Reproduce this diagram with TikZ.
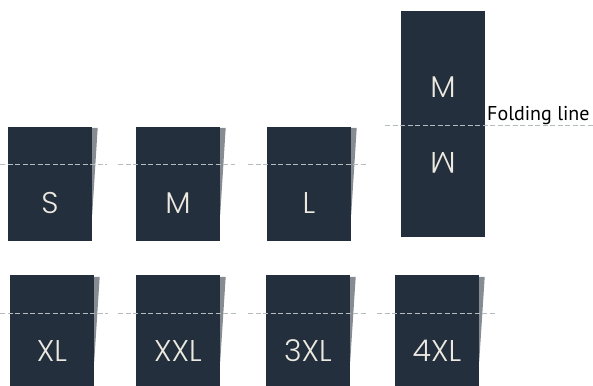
\documentclass[tikz,border=0pt]{standalone}
\usepackage{fontspec}
\setmainfont{PT Sans}
\newfontfamily\tagfont{Poppins Light}
\usetikzlibrary{calc,positioning}
\definecolor{tagnavy}{RGB}{35,47,61}
\definecolor{tagfold}{RGB}{134,140,145}
\definecolor{tagthread}{RGB}{236,233,224}
\definecolor{foldgray}{RGB}{180,188,192}

\begin{document}
\begin{tikzpicture}[x=1pt, y=-1pt,
   tagbox/.style={fill=tagnavy, inner sep=0pt, minimum width=84pt, minimum height=114pt},
   tagtext/.style={text=tagthread, inner sep=0pt, anchor=base, font=\tagfont\fontsize{30}{30}\selectfont},
   foldline/.style={foldgray, line width=1pt, dash pattern=on 5pt off 2.5pt}]
   \path[use as bounding box] (0,0) rectangle (593,385); % canvas of the reference
   % size labels, folded in two, seen from the front
   % the little grey wedge is the back half peeking out

   % top row
   \node[tagbox] (s) at (50,184) {};
   \node[tagbox] (m) at (178,184) {};
   \node[tagbox] (l) at (309,184) {};
   \foreach \t in {s,m,l}
      \fill[tagfold] ($(\t.north east)+(0,1)$) -- ++(5.5,0) -- ($(\t.north east)+(0,88)$) -- cycle;
   \node[tagtext] (s-txt) at ([yshift=-87pt]s.north) {S};
   \node[tagtext] (m-txt) at ([yshift=-87pt]m.north) {M};
   \node[tagtext] (l-txt) at ([yshift=-87pt]l.north) {L};

   % unfolded label, M printed on both halves
   \node[tagbox, minimum height=226pt] (mw) at (443,124) {};
   \node[tagtext] (mw-top) at ([yshift=27pt]mw.center) {M};
   \node[tagtext, rotate=180] (mw-bot) at ([yshift=-28pt]mw.center) {M};

   % bottom row
   \node[tagbox] (xl) at (52,332) {};
   \node[tagbox] (xxl) at (178,332) {};
   \node[tagbox] (3xl) at (308,332) {};
   \node[tagbox] (4xl) at (437,332) {};
   \foreach \t in {xl,xxl,3xl,4xl}
      \fill[tagfold] ($(\t.north east)+(0,2)$) -- ++(5.5,0) -- ($(\t.north east)+(0,87)$) -- cycle;
   \node[tagtext] (xl-txt) at ([yshift=-87pt]xl.north) {XL};
   \node[tagtext] (xxl-txt) at ([yshift=-87pt]xxl.north) {XXL};
   \node[tagtext] (3xl-txt) at ([yshift=-87pt]3xl.north) {3XL};
   \node[tagtext] (4xl-txt) at ([yshift=-87pt]4xl.north) {4XL};

   % folding lines
   \draw[foldline] (0,164) -- (107,164);
   \draw[foldline] (118,164) -- (235,164);
   \draw[foldline] (248,164) -- (366,164);
   \draw[foldline] (385,125) -- (593,125);
   \draw[foldline] (0,313) -- (108,313);
   \draw[foldline] (118,313) -- (236,313);
   \draw[foldline] (248,313) -- (366,313);
   \draw[foldline] (377,313) -- (495,313);

   \node[anchor=base west, inner sep=0pt, font=\fontsize{20}{20}\selectfont] (fold-lbl) at (487,121) {Folding line};

\end{tikzpicture}
\end{document}
